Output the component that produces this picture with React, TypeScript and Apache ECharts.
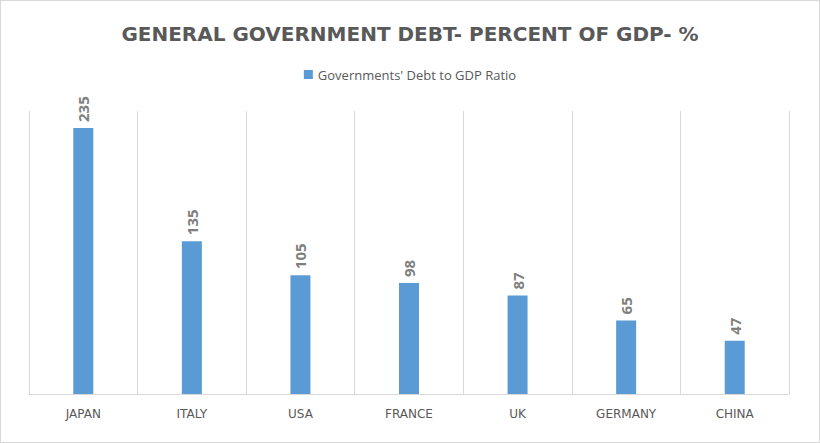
import { useEffect, useRef } from 'react';
import * as echarts from 'echarts';

const countries = ['JAPAN', 'ITALY', 'USA', 'FRANCE', 'UK', 'GERMANY', 'CHINA'];
const debtRatio = [235, 135, 105, 98, 87, 65, 47];

export default function App() {
  const chartRef = useRef<HTMLDivElement>(null);

  useEffect(() => {
    document.body.style.margin = '0';
    if (!chartRef.current) return;
    const chart = echarts.init(chartRef.current, undefined, { renderer: 'svg' });

    chart.setOption({
      animation: false,
      title: {
        text: 'GENERAL GOVERNMENT DEBT- PERCENT OF GDP- %',
        left: 'center',
        top: 18,
        textStyle: {
          color: '#595959',
          fontSize: 20,
          fontWeight: 'bold',
          fontFamily: '"DejaVu Sans", sans-serif',
        },
      },
      legend: {
        top: 62,
        left: 'center',
        itemWidth: 9,
        itemHeight: 9,
        icon: 'rect',
        textStyle: { color: '#595959', fontSize: 13, fontFamily: '"Open Sans", sans-serif' },
      },
      grid: { left: 28, right: 30, top: 110, bottom: 48 },
      xAxis: {
        type: 'category',
        data: countries,
        axisTick: { show: false },
        axisLine: { lineStyle: { color: '#d9d9d9' } },
        splitLine: { show: true, lineStyle: { color: '#d9d9d9' } },
        axisLabel: {
          color: '#595959',
          fontSize: 12,
          margin: 14,
          fontFamily: '"DejaVu Sans", sans-serif',
        },
      },
      yAxis: {
        type: 'value',
        min: 0,
        max: 250,
        show: false,
        splitLine: { show: false },
      },
      series: [
        {
          name: "Governments' Debt to GDP Ratio",
          type: 'bar',
          data: debtRatio,
          barWidth: 20,
          itemStyle: { color: '#5b9bd5' },
          label: {
            show: true,
            position: 'top',
            rotate: 90,
            align: 'left',
            verticalAlign: 'middle',
            distance: 6,
            color: '#7f7f7f',
            fontSize: 15,
            fontWeight: 'bold',
            fontFamily: '"Open Sans", sans-serif',
          },
        },
      ],
    });

    return () => chart.dispose();
  }, []);

  return (
    <div
      ref={chartRef}
      style={{ width: 818, height: 441, border: '1px solid #d9d9d9' }}
    />
  );
}
